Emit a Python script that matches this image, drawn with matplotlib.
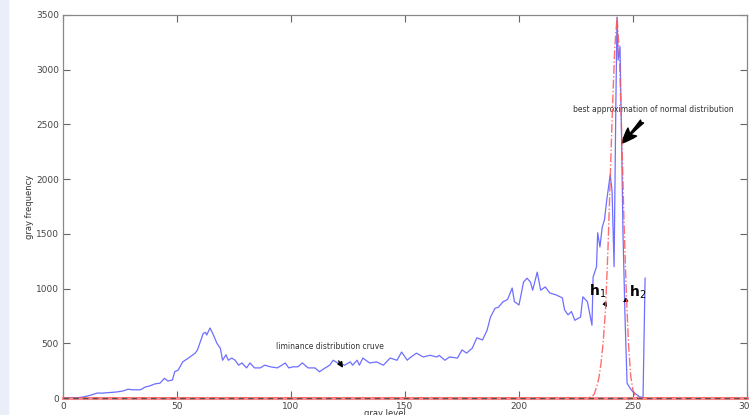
import matplotlib.pyplot as plt
from matplotlib.patches import Rectangle

# luminance histogram (blue curve)
gray_level = [0, 3, 6, 9, 12, 15, 17.5, 20.5, 23.5, 26.5,
              28.5, 30.5, 34, 36, 38, 40.5, 42.5, 44.5, 46, 48,
              49, 50.5, 52.5, 55, 58, 59, 61.5, 62.5, 63, 64.5,
              66, 67.5, 69, 70, 71.5, 72.5, 74, 75.5, 77, 78.5,
              80.5, 82, 84, 86.5, 88.5, 91, 94, 96, 97.5, 99,
              101, 103, 105, 107.5, 110.5, 112.5, 115, 117, 118.5, 120.5,
              123.5, 126, 127, 129, 130, 131.5, 134.5, 137.5, 140.5, 143.5,
              146.5, 148.5, 151, 152, 155, 158, 161, 164, 165, 167.5,
              169.5, 173, 175, 177, 179.5, 181.5, 184, 186, 187.5, 189.5,
              191, 193, 195, 197, 198, 200, 202, 203.5, 205, 206,
              208, 209.5, 211.5, 213.5, 216.5, 219, 220, 221.5, 223, 224.5,
              227, 228, 230, 232, 232.5, 234, 234.5, 235.5, 236.5, 237.5,
              238.5, 240, 240.8, 241.7, 242.5, 243, 243.5, 244.3, 245, 245.6,
              246.5, 247.4, 248.7, 250, 253, 254.4, 255.3]
frequency = [0, 0, 0, 10, 25, 45, 45, 50, 55, 65,
             80, 75, 75, 100, 110, 130, 135, 180, 155, 165,
             240, 255, 330, 365, 410, 440, 590, 600, 575, 640,
             575, 500, 455, 345, 395, 345, 365, 345, 300, 320,
             275, 320, 275, 275, 300, 285, 275, 300, 320, 275,
             285, 285, 320, 275, 275, 240, 275, 300, 345, 320,
             300, 330, 300, 345, 300, 365, 320, 330, 300, 365,
             345, 420, 345, 365, 410, 375, 390, 375, 390, 345,
             375, 365, 440, 410, 455, 550, 530, 620, 740, 820,
             830, 880, 900, 1005, 880, 850, 1060, 1095, 1060, 985,
             1150, 985, 1015, 960, 940, 915, 805, 760, 790, 710,
             740, 925, 880, 665, 1105, 1200, 1510, 1380, 1560, 1630,
             1810, 2040, 1900, 1200, 2720, 3480, 3090, 3210, 2360, 1510,
             740, 135, 90, 55, 10, 5, 1095]

# best approximation of normal distribution (red dash-dot)
normal_x = [0, 230, 231, 232, 233, 234, 235, 236, 237, 238, 239, 240, 241,
            242, 243, 244, 245, 246, 247, 248, 249, 250, 251, 252, 253, 300]
normal_y = [0, 0, 5, 15, 35, 100, 180, 320, 530, 830, 1350, 2000, 2650,
            3200, 3480, 3150, 2450, 1650, 1000, 500, 200, 70, 20, 5, 0, 0]

fig = plt.figure(figsize=(7.49, 4.15), dpi=100)
fig.patches.append(Rectangle((0, 0), 8 / 749, 1, transform=fig.transFigure,
                             color='#e9eef8', zorder=0))
ax = fig.add_axes([63 / 749, 17 / 415, 684 / 749, 383 / 415])

ax.plot([0, 300], [0, 0], color='#ff8888', lw=2.2, zorder=3, clip_on=False)
ax.plot([0, 300], [0, 0], color='#555555', lw=1, ls=(0, (4, 3)), zorder=3,
        clip_on=False)
ax.plot(gray_level, frequency, color='#5555ff', lw=0.9, alpha=0.85, zorder=3)
ax.plot(normal_x, normal_y, color='#ff5555', lw=1, ls='-.', alpha=0.85, zorder=4)

ax.set_xlim(0, 300)
ax.set_ylim(0, 3500)
ax.set_xticks([0, 50, 100, 150, 200, 250, 300])
ax.set_yticks(range(0, 3501, 500))
ax.tick_params(direction='in', length=5, width=0.8, color='#666666',
               labelsize=6.5, labelcolor='#444444', top=True, right=True, pad=3)
for s in ax.spines.values():
    s.set_color('#888888')
    s.set_linewidth(0.9)

ax.set_ylabel('gray frequency', fontsize=6, color='#333333', labelpad=1)
ax.set_xlabel('gray level', fontsize=6, color='#333333')
ax.xaxis.set_label_coords(0.47, -0.03)

# annotations
ax.annotate('liminance distribution cruve', xy=(122.8, 275), xytext=(117, 470),
            fontsize=5.5, color='#333333', ha='center', va='center',
            arrowprops=dict(arrowstyle='-|>', color='black', lw=1,
                            mutation_scale=8, shrinkA=6, shrinkB=0))
ax.annotate('best approximation of normal distribution', xy=(245.2, 2330),
            xytext=(259, 2640), fontsize=5.5, color='#333333', ha='center',
            va='center',
            arrowprops=dict(arrowstyle='fancy,head_length=0.9,head_width=0.7,tail_width=0.25',
                            color='black', mutation_scale=12, shrinkA=5, shrinkB=0))
ax.annotate('h$_1$', xy=(238.6, 830), xytext=(234.3, 975), fontsize=10,
            fontweight='bold', ha='center', va='center',
            arrowprops=dict(arrowstyle='-|>', color='black', lw=0.8,
                            mutation_scale=6, shrinkA=5, shrinkB=0))
ax.annotate('h$_2$', xy=(245.6, 875), xytext=(252.2, 965), fontsize=10,
            fontweight='bold', ha='center', va='center',
            arrowprops=dict(arrowstyle='-|>', color='black', lw=0.8,
                            mutation_scale=6, shrinkA=5, shrinkB=0))

fig.savefig('out.png', dpi=100)
